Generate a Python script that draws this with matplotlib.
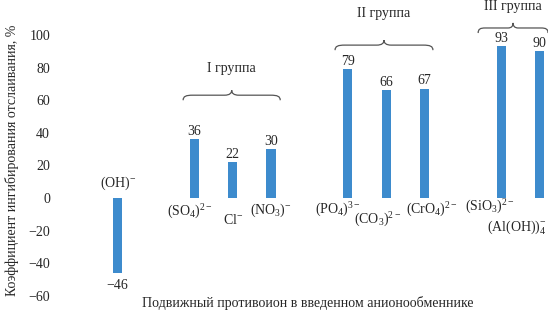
"""Bar chart: inhibition coefficient of delamination vs. mobile counter-ion."""

import numpy as np
import matplotlib
matplotlib.use("Agg")
import matplotlib.pyplot as plt
from matplotlib.path import Path
from matplotlib.patches import PathPatch

plt.rcParams["font.family"] = ["Liberation Serif", "DejaVu Serif"]
plt.rcParams["mathtext.fontset"] = "custom"
plt.rcParams["mathtext.rm"] = "Liberation Serif"
plt.rcParams["mathtext.it"] = "Liberation Serif:italic"
plt.rcParams["mathtext.bf"] = "Liberation Serif:bold"

# data ('' / nan = empty slot between groups)
categories = [
    r"$\mathregular{(OH)^{-}}$", "",
    r"$\mathregular{(SO_4)^{2-}}$", r"$\mathregular{Cl^{-}}$", r"$\mathregular{(NO_3)^{-}}$", "",
    r"$\mathregular{(PO_4)^{3-}}$", r"$\mathregular{(CO_3)^{2-}}$", r"$\mathregular{(CrO_4)^{2-}}$", "",
    r"$\mathregular{(SiO_3)^{2-}}$", r"$\mathregular{(Al(OH))_4^{-}}$",
]
values = [-46, np.nan, 36, 22, 30, np.nan, 79, 66, 67, np.nan, 93, 90]
group_names = ["I группа", "II группа", "III группа"]

y_ticks = [-60, -40, -20, 0, 20, 40, 60, 80, 100]
y_label = "Коэффициент ингибирования отслаивания, %"
x_label = "Подвижный противоион в введенном анионообменнике"

# style
BAR_COLOR = "#3d8bcd"
TEXT_COLOR = "#262626"
FS = 10
# category label offsets in pixels from (bar, 0)
label_offsets = {0: (1, 15), 2: (-4, -14), 3: (0, -22), 4: (0, -12),
                 6: (-10, -12), 7: (-8, -22), 8: (7, -12),
                 10: (-11, -9), 11: (-23, -29)}
# brace spans (data x), base level (data y), name offset (px above tip)
brace_spans = [(1.71, 4.24), (5.67, 8.22), (9.40, 11.22)]
brace_base = [60, 90.7, 101.2]
name_offsets = [22, 27, 16]
brace_height = 6.2


def draw_brace(ax, x0, x1, yb, h, color="#555555"):
    w = (x1 - x0) / 2.0
    xm = x0 + w
    ym = yb + 0.5 * h
    verts = [
        (x0, yb),
        (x0, yb + 0.4 * h), (x0 + 0.06 * w, ym), (x0 + 0.2 * w, ym),
        (xm - 0.15 * w, ym),
        (xm - 0.04 * w, ym), (xm, yb + 0.7 * h), (xm, yb + h),
        (xm, yb + 0.7 * h), (xm + 0.04 * w, ym), (xm + 0.15 * w, ym),
        (x1 - 0.2 * w, ym),
        (x1 - 0.06 * w, ym), (x1, yb + 0.4 * h), (x1, yb),
    ]
    codes = ([Path.MOVETO] + [Path.CURVE4] * 3 + [Path.LINETO]
             + [Path.CURVE4] * 6 + [Path.LINETO] + [Path.CURVE4] * 3)
    ax.add_patch(PathPatch(Path(verts, codes), fill=False, edgecolor=color,
                           linewidth=0.9, clip_on=False))


fig = plt.figure(figsize=(5.48, 3.11), dpi=100)
ax = fig.add_axes([60 / 548, 15 / 311, 488 / 548, 261 / 311])

x = np.arange(len(categories))
vals = np.array(values, dtype=float)
mask = ~np.isnan(vals)
ax.bar(x[mask], vals[mask], width=0.235, color=BAR_COLOR)

ax.set_xlim(-1.5, 11.22)
ax.set_ylim(-60, 100)
ax.set_yticks(y_ticks)
ax.set_xticks([])
ax.tick_params(axis="y", length=0, pad=7.2, labelsize=FS, labelcolor=TEXT_COLOR)
for s in ax.spines.values():
    s.set_visible(False)

# value labels and category labels
for i in x[mask]:
    v = vals[i]
    dy = 8 if v >= 0 else -12
    ax.annotate(f"{v:.0f}".replace("-", "\u2212"), (i, v), xytext=(0, dy),
                textcoords="offset pixels", ha="center", va="center",
                fontsize=FS, color=TEXT_COLOR, annotation_clip=False)
    ox, oy = label_offsets[i]
    ax.annotate(categories[i], (i, 0), xytext=(ox, oy),
                textcoords="offset pixels", ha="center", va="center",
                fontsize=FS, color=TEXT_COLOR, annotation_clip=False)

# group braces and names
for name, (x0, x1), yb, off in zip(group_names, brace_spans, brace_base, name_offsets):
    draw_brace(ax, x0, x1, yb, brace_height)
    ax.annotate(name, ((x0 + x1) / 2, yb + brace_height), xytext=(0, off),
                textcoords="offset pixels", ha="center", va="center",
                fontsize=FS, color=TEXT_COLOR, annotation_clip=False)

fig.text(12 / 548, 1 - 160 / 311, y_label, rotation=90, ha="center",
         va="center", fontsize=FS, color=TEXT_COLOR)
fig.text(308 / 548, 1 - 303 / 311, x_label, ha="center", va="center",
         fontsize=FS, color=TEXT_COLOR)

fig.savefig("out.png", dpi=100)
plt.close(fig)
